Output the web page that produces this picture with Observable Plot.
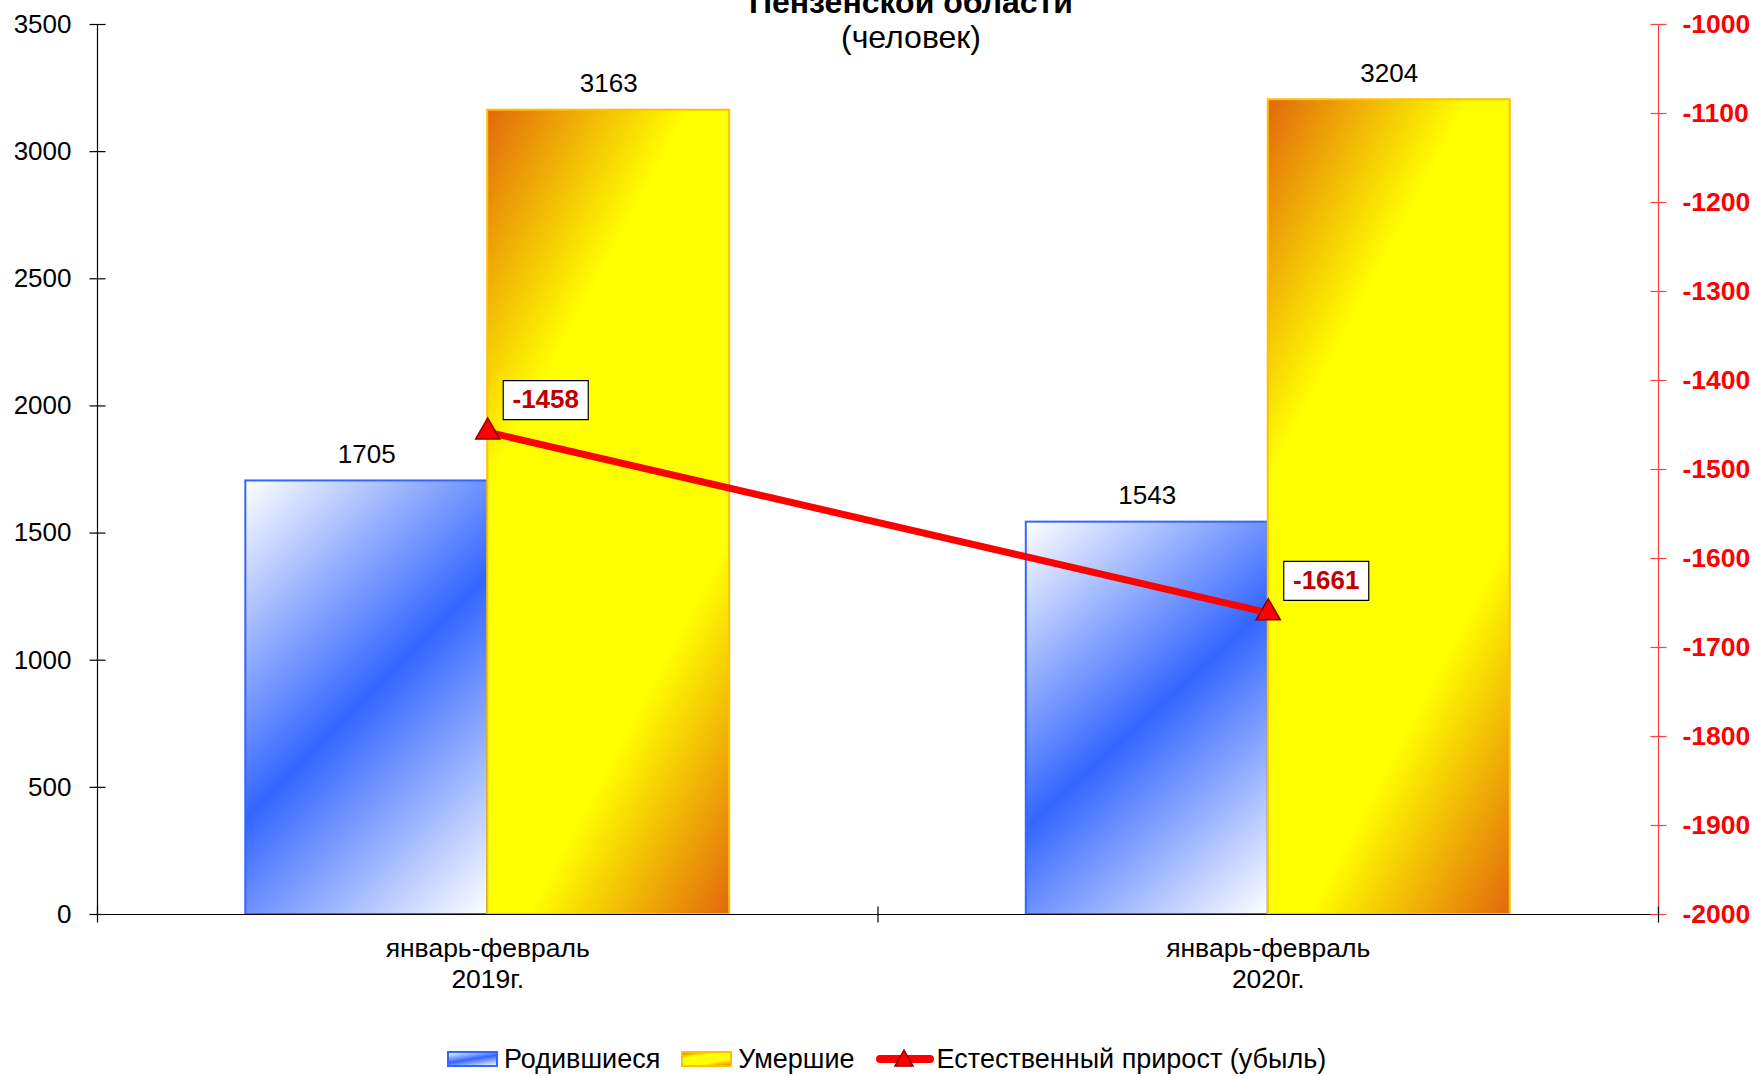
<!DOCTYPE html>
<html>
<head>
<meta charset="utf-8">
<script src="https://cdn.jsdelivr.net/npm/d3@7"></script>
<script src="https://cdn.jsdelivr.net/npm/@observablehq/plot@0.6"></script>
<style>
  html, body { margin: 0; padding: 0; background: #fff; }
  #wrap { position: relative; width: 1752px; height: 1076px; overflow: hidden; font-family: "Liberation Sans", Arial, sans-serif; }
  .title { position: absolute; left: 0; width: 1752px; box-sizing: border-box; padding-left: 70px; text-align: center; color: #000; white-space: nowrap; }
  #t1 { top: -14px; font-size: 32px; line-height: 32px; font-weight: bold; }
  #t2 { top: 21px; font-size: 32px; line-height: 32px; }
  #legend { position: relative; height: 46px; box-sizing: border-box; padding-top: 12px; padding-left: 447px; display: flex; align-items: center; font-size: 27px; color: #000; }
  #legend .item { display: flex; align-items: center; height: 34px; }
  #legend svg { display: block; margin-right: 6px; }
  #legend .item.k2 svg { margin-right: 3px; }
  #legend .lab { margin-right: 21px; white-space: nowrap; }
</style>
</head>
<body>
<svg width="0" height="0" style="position:absolute">
  <defs>
    <linearGradient id="gBlue" x1="0" y1="0" x2="0.665" y2="1.188">
      <stop offset="0" stop-color="#ffffff"/>
      <stop offset="0.5" stop-color="#3366ff"/>
      <stop offset="1" stop-color="#ffffff"/>
    </linearGradient>
    <linearGradient id="gYellow" x1="0" y1="0" x2="0.665" y2="1.188">
      <stop offset="0" stop-color="#e2680c"/>
      <stop offset="0.3" stop-color="#ffff00"/>
      <stop offset="0.7" stop-color="#ffff00"/>
      <stop offset="1" stop-color="#e2680c"/>
    </linearGradient>
  </defs>
</svg>
<div id="wrap">
  <div id="chart"></div>
  <div id="legend"></div>
  <div class="title" id="t1"></div>
  <div class="title" id="t2"></div>
</div>
<script>
// ---- data ----
const titleLines = ["Пензенской области", "(человек)"];
const categories = ["январь-февраль\n2019г.", "январь-февраль\n2020г."];
const seriesNames = ["Родившиеся", "Умершие", "Естественный прирост (убыль)"];
const births = [1705, 1543];
const deaths = [3163, 3204];
const growth = [-1458, -1661];
const leftTicks = [0, 500, 1000, 1500, 2000, 2500, 3000, 3500];
const rightTicks = [-2000, -1900, -1800, -1700, -1600, -1500, -1400, -1300, -1200, -1100, -1000];

// ---- derived tables ----
const bornRows = categories.map((c, i) => ({i, value: births[i]}));
const deathRows = categories.map((c, i) => ({i, value: deaths[i]}));
const growthRows = categories.map((c, i) => ({i, value: growth[i]}));
const xDomain = [-0.5, categories.length - 0.5];
const xBounds = d3.range(categories.length + 1).map(i => i - 0.5);
const yDomain = [leftTicks[0], leftTicks[leftTicks.length - 1]];
const y2 = d3.scaleLinear([rightTicks[0], rightTicks[rightTicks.length - 1]], yDomain);

const half = 0.31; // bar width in category units
const font = "'Liberation Sans', Arial, sans-serif";

const hTick = {draw(ctx) { ctx.moveTo(-8, 0); ctx.lineTo(8, 0); }};
const vTick = {draw(ctx) { ctx.moveTo(0, -8); ctx.lineTo(0, 8); }};
const boxSym = {draw(ctx) { ctx.rect(-42.5, -19.5, 85, 39); }};

const chart = Plot.plot({
  width: 1752,
  height: 1030,
  marginLeft: 97,
  marginRight: 94,
  marginTop: 24,
  marginBottom: 116,
  x: {type: "linear", domain: xDomain, axis: null},
  y: {domain: yDomain, axis: null},
  style: {fontFamily: font, background: "#fff", overflow: "visible"},
  marks: [
    Plot.rectY(bornRows, {x1: d => d.i - half, x2: d => d.i, y: "value", fill: "url(#gBlue)", stroke: "#3366ff", strokeWidth: 2}),
    Plot.rectY(deathRows, {x1: d => d.i, x2: d => d.i + half, y: "value", fill: "url(#gYellow)", stroke: "#ffc000", strokeWidth: 2}),
    Plot.ruleY([yDomain[0]], {stroke: "#000", strokeWidth: 1.2}),
    Plot.ruleX([xDomain[0]], {stroke: "#000", strokeWidth: 1.2}),
    Plot.ruleX([xDomain[1]], {stroke: "#ff4040", strokeWidth: 1.2}),
    Plot.dot(leftTicks, {y: d => d, frameAnchor: "left", symbol: hTick, fill: "none", stroke: "#000", strokeWidth: 1.2}),
    Plot.dot(rightTicks, {y: d => y2(d), frameAnchor: "right", symbol: hTick, fill: "none", stroke: "#ff4040", strokeWidth: 1.2}),
    Plot.dot(xBounds, {x: d => d, frameAnchor: "bottom", symbol: vTick, fill: "none", stroke: "#000", strokeWidth: 1.2}),
    Plot.axisY(leftTicks, {anchor: "left", label: null, tickSize: 0, tickPadding: 26, fontSize: 26, fill: "#000", tickFormat: d => String(d)}),
    Plot.text(rightTicks, {y: d => y2(d), text: d => String(d), frameAnchor: "right", dx: 24, textAnchor: "start", fill: "#ff0000", fontWeight: "bold", fontSize: 26.5}),
    Plot.text(categories, {x: (d, i) => i, text: d => d, frameAnchor: "bottom", lineAnchor: "top", dy: 20, fontSize: 26.5, lineHeight: 1.18, fill: "#000"}),
    Plot.text(bornRows, {x: d => d.i - half / 2, y: "value", text: d => String(d.value), dy: -18, lineAnchor: "bottom", fontSize: 26, fill: "#000"}),
    Plot.text(deathRows, {x: d => d.i + half / 2, y: "value", text: d => String(d.value), dy: -18, lineAnchor: "bottom", fontSize: 26, fill: "#000"}),
    Plot.line(growthRows, {x: "i", y: d => y2(d.value), stroke: "#ff0000", strokeWidth: 7}),
    Plot.dot(growthRows, {x: "i", y: d => y2(d.value), symbol: "triangle", r: 9, fill: "#ff0000", stroke: "#8b0000", strokeWidth: 1.5}),
    Plot.dot(growthRows, {x: "i", y: d => y2(d.value), symbol: boxSym, dx: 58, dy: -32, fill: "#fff", stroke: "#000", strokeWidth: 1.2}),
    Plot.text(growthRows, {x: "i", y: d => y2(d.value), text: d => String(d.value), dx: 58, dy: -32, fill: "#c00000", fontWeight: "bold", fontSize: 26})
  ]
});
document.getElementById("chart").appendChild(chart);

document.getElementById("t1").textContent = titleLines[0];
document.getElementById("t2").textContent = titleLines[1];

// ---- legend ----
const swatches = [
  '<svg width="51" height="16"><rect x="1" y="1" width="49" height="14" fill="url(#gBlue)" stroke="#3366ff" stroke-width="2"/></svg>',
  '<svg width="51" height="16"><rect x="1" y="1" width="49" height="14" fill="url(#gYellow)" stroke="#ffc000" stroke-width="2"/></svg>',
  '<svg width="58" height="24"><line x1="4" y1="12" x2="54" y2="12" stroke="#ff0000" stroke-width="8" stroke-linecap="round"/><path d="M28,3 L37,19 L19,19 Z" fill="#ff0000" stroke="#8b0000" stroke-width="1.5"/></svg>'
];
const legend = document.getElementById("legend");
seriesNames.forEach((name, k) => {
  const item = document.createElement("span");
  item.className = "item k" + k;
  item.innerHTML = swatches[k];
  const lab = document.createElement("span");
  lab.className = "lab";
  lab.textContent = name;
  item.appendChild(lab);
  legend.appendChild(item);
});
</script>
</body>
</html>
